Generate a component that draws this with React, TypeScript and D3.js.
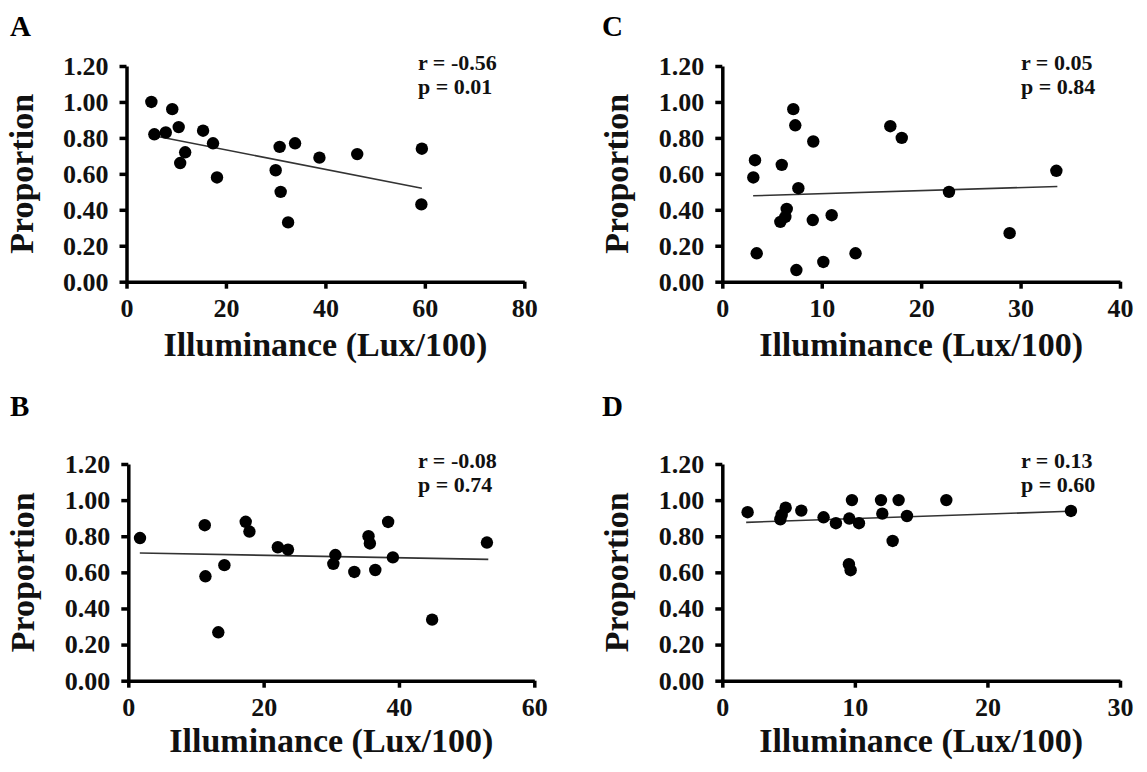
import React, { useEffect, useRef } from 'react';
import * as d3 from 'd3';

// Panel A
const xA = [5.0, 5.6, 9.2, 7.9, 10.5, 11.8, 10.8, 15.4, 17.4, 18.2, 30.8, 33.9, 30.0, 31.0, 32.5, 38.8, 46.4, 59.4, 59.3];
const yA = [1.0, 0.82, 0.96, 0.83, 0.86, 0.72, 0.66, 0.84, 0.77, 0.58, 0.75, 0.77, 0.62, 0.5, 0.33, 0.69, 0.71, 0.74, 0.43];
const trendAX = [5.0, 59.4];
const trendAY = [0.815, 0.52];

// Panel B
const xB = [1.73, 11.3, 11.4, 14.2, 13.3, 17.35, 17.9, 22.1, 23.6, 30.6, 30.3, 33.4, 35.5, 35.7, 36.5, 38.4, 39.1, 44.9, 53.0];
const yB = [0.79, 0.861, 0.578, 0.64, 0.268, 0.88, 0.826, 0.739, 0.726, 0.696, 0.647, 0.602, 0.8, 0.76, 0.613, 0.879, 0.683, 0.338, 0.765];
const trendBX = [1.7, 53.2];
const trendBY = [0.707, 0.672];

// Panel C
const xC = [7.14, 7.34, 9.15, 16.9, 18.05, 3.29, 3.12, 5.98, 7.65, 6.48, 6.34, 5.84, 9.1, 11.0, 3.46, 7.45, 10.16, 13.4, 22.8, 28.9, 33.6];
const yC = [0.96, 0.87, 0.78, 0.865, 0.8, 0.676, 0.58, 0.65, 0.52, 0.405, 0.36, 0.333, 0.343, 0.37, 0.158, 0.065, 0.11, 0.158, 0.5, 0.27, 0.617];
const trendCX = [3.1, 33.7];
const trendCY = [0.478, 0.53];

// Panel D
const xD = [1.91, 4.38, 4.48, 4.78, 5.96, 7.64, 8.57, 9.58, 9.78, 10.31, 9.55, 9.68, 11.97, 12.07, 13.3, 12.85, 13.93, 16.9, 26.3];
const yD = [0.933, 0.894, 0.918, 0.958, 0.942, 0.905, 0.872, 0.898, 1.0, 0.872, 0.645, 0.612, 1.0, 0.925, 1.0, 0.774, 0.912, 1.0, 0.94];
const trendDX = [1.8, 26.2];
const trendDY = [0.877, 0.938];

const yTicks = [0, 0.2, 0.4, 0.6, 0.8, 1.0, 1.2];
const xTicksA = [0, 20, 40, 60, 80];
const xTicksB = [0, 20, 40, 60];
const xTicksC = [0, 10, 20, 30, 40];
const xTicksD = [0, 10, 20, 30];

const statsA = ['r = -0.56', 'p = 0.01'];
const statsB = ['r = -0.08', 'p = 0.74'];
const statsC = ['r = 0.05', 'p = 0.84'];
const statsD = ['r = 0.13', 'p = 0.60'];

const font = '"Liberation Serif", "Times New Roman", serif';

const panels = [
  { letter: 'A', xs: xA, ys: yA, tx: trendAX, ty: trendAY, xTicks: xTicksA, stats: statsA,
    left: 126.5, right: 524.3, top: 66, bottom: 281.7, letterY: 36, labelY: 356, statX: 418 },
  { letter: 'C', xs: xC, ys: yC, tx: trendCX, ty: trendCY, xTicks: xTicksC, stats: statsC,
    left: 722.3, right: 1120, top: 66, bottom: 281.7, letterY: 36, labelY: 356, statX: 1021 },
  { letter: 'B', xs: xB, ys: yB, tx: trendBX, ty: trendBY, xTicks: xTicksB, stats: statsB,
    left: 128.3, right: 534.3, top: 464, bottom: 680.7, letterY: 416, labelY: 752, statX: 418 },
  { letter: 'D', xs: xD, ys: yD, tx: trendDX, ty: trendDY, xTicks: xTicksD, stats: statsD,
    left: 722.3, right: 1120, top: 464, bottom: 680.7, letterY: 416, labelY: 752, statX: 1021 },
];

export default function App() {
  const ref = useRef<SVGSVGElement>(null);

  useEffect(() => {
    const svg = d3.select(ref.current);
    svg.selectAll('*').remove();

    panels.forEach((p) => {
      const x = d3.scaleLinear()
        .domain([p.xTicks[0], p.xTicks[p.xTicks.length - 1]])
        .range([p.left, p.right]);
      const y = d3.scaleLinear().domain([0, 1.2]).range([p.bottom, p.top]);
      const g = svg.append('g').style('font-family', font).style('font-weight', 'bold');

      // panel letter
      g.append('text')
        .attr('x', p.left < 400 ? 10 : 602)
        .attr('y', p.letterY)
        .attr('font-size', 29)
        .text(p.letter);

      // y axis
      const ya = g.append('g')
        .attr('transform', `translate(${p.left},0)`)
        .call(d3.axisLeft(y).tickValues(yTicks).tickFormat(d3.format('.2f')).tickSize(7).tickSizeOuter(0).tickPadding(11));
      // x axis
      const xa = g.append('g')
        .attr('transform', `translate(0,${p.bottom})`)
        .call(d3.axisBottom(x).tickValues(p.xTicks).tickFormat(d3.format('d')).tickSize(7).tickSizeOuter(0).tickPadding(10));

      [ya, xa].forEach((a) => {
        a.select('.domain').attr('stroke', '#000').attr('stroke-width', 3.5);
        a.selectAll('.tick line').attr('stroke', '#000').attr('stroke-width', 3.5);
        a.selectAll('.tick text')
          .attr('fill', '#111')
          .style('font-family', font)
          .style('font-weight', 'bold')
          .style('font-size', '26px');
      });

      // axis titles
      g.append('text')
        .attr('transform', `translate(${p.left - 94},${(p.top + p.bottom) / 2}) rotate(-90)`)
        .attr('text-anchor', 'middle')
        .attr('font-size', 34)
        .attr('fill', '#111')
        .text('Proportion');

      g.append('text')
        .attr('x', (p.left + p.right) / 2)
        .attr('y', p.labelY)
        .attr('text-anchor', 'middle')
        .attr('font-size', 34)
        .attr('fill', '#111')
        .text('Illuminance (Lux/100)');

      // trend line
      g.append('line')
        .attr('x1', x(p.tx[0])).attr('y1', y(p.ty[0]))
        .attr('x2', x(p.tx[1])).attr('y2', y(p.ty[1]))
        .attr('stroke', '#333')
        .attr('stroke-width', 1.6);

      // points
      g.selectAll('circle.pt')
        .data(p.xs.map((v, i) => [v, p.ys[i]]))
        .enter()
        .append('circle')
        .attr('class', 'pt')
        .attr('cx', (d) => x(d[0]))
        .attr('cy', (d) => y(d[1]))
        .attr('r', 6.2)
        .attr('fill', '#000');

      // r / p
      p.stats.forEach((s, i) => {
        g.append('text')
          .attr('x', p.statX)
          .attr('y', p.top + 4 + i * 24)
          .attr('font-size', 22)
          .attr('fill', '#111')
          .text(s);
      });
    });
  }, []);

  return (
    <svg
      ref={ref}
      width={1147}
      height={772}
      style={{ position: 'absolute', left: 0, top: 0, background: '#fff' }}
    />
  );
}
